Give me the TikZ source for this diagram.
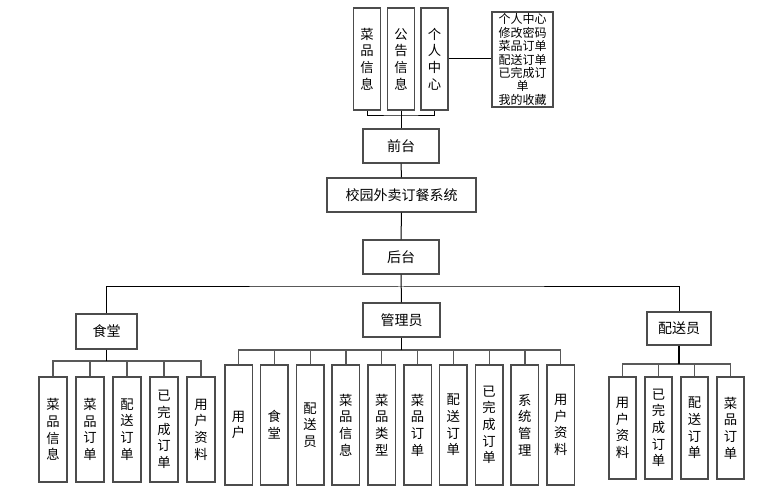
\documentclass[tikz,border=0pt]{standalone}
\usepackage{fontspec}
\setmainfont{Noto Sans CJK SC}
\begin{document}
\begin{tikzpicture}[x=0.75pt,y=-0.75pt,
  box/.style={draw=black!70, line width=1.1pt, inner sep=0pt, align=center, font=\fontsize{10.5}{12}\selectfont},
  vbox/.style={box, font=\fontsize{10}{12.5}\selectfont},
  conn/.style={draw=black, line width=0.75pt},
  sub/.style={draw=black!65, line width=0.9pt},
  trunk/.style={draw=black, line width=1.4pt}]
\fill[white] (0,0) rectangle (776,491);
\useasboundingbox (0,0) rectangle (776,491);
% top
\node[vbox, minimum width=20pt, minimum height=76.5pt] (tA) at (367,59) {菜\\品\\信\\息};
\node[vbox, minimum width=20pt, minimum height=76.5pt] (tB) at (401,59) {公\\告\\信\\息};
\node[vbox, minimum width=20pt, minimum height=76.5pt] (tC) at (434.5,59) {个\\人\\中\\心};
\node[box, minimum width=45.75pt, minimum height=71.25pt, font=\fontsize{9}{10.1}\selectfont] (pc) at (522.5,59.5) {个人中心\\修改密码\\菜品订单\\配送订单\\已完成订\\单\\我的收藏};
\node[box, minimum width=57pt, minimum height=25.5pt] (qt) at (401,146) {前台};
\node[box, minimum width=111.75pt, minimum height=25.5pt] (xt) at (401.5,195) {校园外卖订餐系统};
\node[box, minimum width=57pt, minimum height=25.5pt] (ht) at (401,257) {后台};
\node[box, minimum width=45.75pt, minimum height=26.25pt] (st) at (106.5,331.5) {食堂};
\node[box, minimum width=57.75pt, minimum height=25.5pt] (mg) at (401.5,320) {管理员};
\node[box, minimum width=48pt, minimum height=24.75pt] (ps) at (679,328.5) {配送员};
% canteen children
\foreach \i/\t [count=\k from 0] in {1/菜\\品\\信\\息, 2/菜\\品\\订\\单, 3/配\\送\\订\\单, 4/已\\完\\成\\订\\单, 5/用\\户\\资\\料}
  \node[vbox, minimum width=21pt, minimum height=78.75pt] (s\i) at ({53+37*\k},429.5) {\t};
% admin children
\foreach \i/\t [count=\k from 0] in {1/用\\户, 2/食\\堂, 3/配\\送\\员, 4/菜\\品\\信\\息, 5/菜\\品\\类\\型, 6/菜\\品\\订\\单, 7/配\\送\\订\\单, 8/已\\完\\成\\订\\单, 9/系\\统\\管\\理, 10/用\\户\\资\\料}
  \node[vbox, minimum width=20.6pt, minimum height=90pt] (m\i) at ({238.5+35.8*\k},425) {\t};
% delivery children
\foreach \i/\t [count=\k from 0] in {1/用\\户\\资\\料, 2/已\\完\\成\\订\\单, 3/配\\送\\订\\单, 4/菜\\品\\订\\单}
  \node[vbox, minimum width=20.25pt, minimum height=76.5pt] (p\i) at ({622.5+36*\k},428) {\t};
% connectors top
\coordinate (jt) at (401,116);
\draw[conn] (tA.south) |- (jt) -| (tC.south);
\draw[conn] (tB.south) -- (qt.north);
\draw[conn] (tC.east) -- (tC.east -| pc.west);
\draw[conn] (qt.south) -- (xt.north);
\draw[conn] (xt.south) -- (ht.north);
\coordinate (bus) at (401,287);
\draw[conn] (ht.south) -- (mg.north);
\draw[conn] (st.north) |- (bus) -| (ps.north);
% canteen bus
\coordinate (sb) at (106.5,361);
\draw[sub] (s1.north) |- (sb) -| (s5.north);
\foreach \i in {2,3,4} \draw[sub] (s\i.north) -- (s\i.north |- sb);
\draw[trunk] (st.south) -- (sb);
% admin bus
\coordinate (mb) at (401.5,350);
\draw[sub] (m1.north) |- (mb) -| (m10.north);
\foreach \i in {2,...,9} \draw[sub] (m\i.north) -- (m\i.north |- mb);
\draw[trunk] (mg.south) -- (mb);
% delivery bus
\coordinate (pb) at (679,364);
\draw[sub] (p1.north) |- (pb) -| (p4.north);
\foreach \i in {2,3} \draw[sub] (p\i.north) -- (p\i.north |- pb);
\draw[trunk] (ps.south) -- (pb);
\end{tikzpicture}
\end{document}
